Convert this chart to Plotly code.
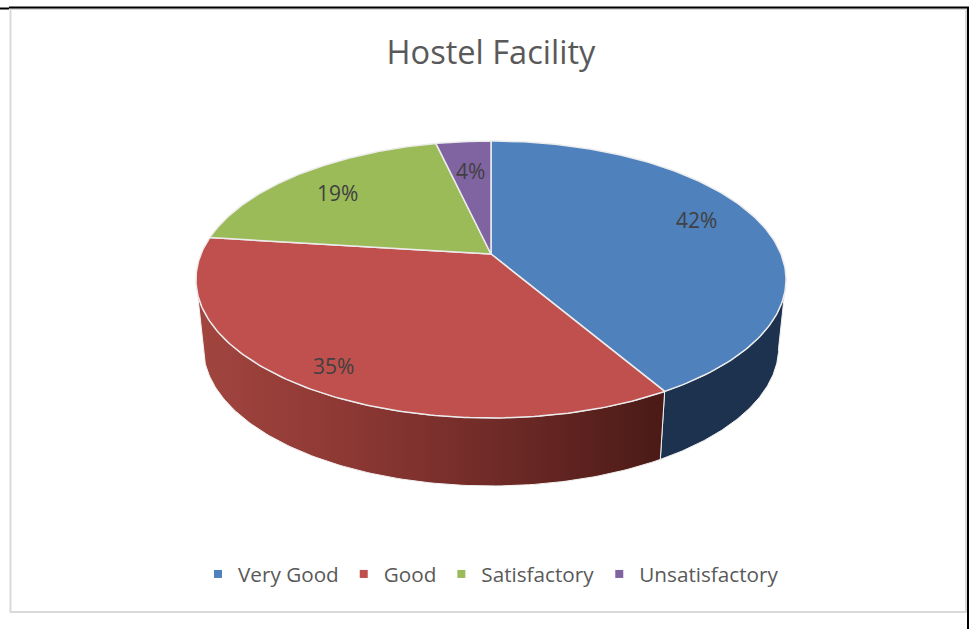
import numpy as np
import plotly.graph_objects as go

# ---- data ----
categories = ["Very Good", "Good", "Satisfactory", "Unsatisfactory"]
values = [41.6, 35.4, 19.4, 3.6]
title_text = "Hostel Facility"

# ---- style ----
top_colors = ["#4f81bd", "#c0504d", "#9bbb59", "#8064a2"]
label_radii = [0.76, 0.855, 0.78, 0.70]
label_yshift = [8, -2, -3, 1]
CX, CY, A, B, K = 491, 254, 290, 133.8, 0.184
DEPTH, SHRINK = 68, 0.975


def project(theta, r=1.0):
    u, v = r * np.sin(theta), r * np.cos(theta)
    d = 1 + K * v
    return CX + A * u / d, CY - B * v / d


def lower(theta):
    x, y = project(theta)
    return CX + SHRINK * (x - CX), y + DEPTH


fracs = np.array(values) / sum(values)
edges = np.concatenate([[0], np.cumsum(fracs)]) * 2 * np.pi
tangent = np.arccos(-K)  # where the rim is widest on screen

fig = go.Figure()


def wall(t0, t1, **kw):
    th = np.linspace(t0, t1, 120)
    xt, yt = project(th)
    xb, yb = lower(th[::-1])
    fig.add_trace(go.Scatter(
        x=np.concatenate([xt, xb, xt[:1]]), y=np.concatenate([yt, yb, yt[:1]]),
        mode="lines", fill="toself", showlegend=False, hoverinfo="skip",
        line=dict(color="#f2f2f2", width=1), **kw))


# side walls, from the slices that face the viewer
wall(tangent, edges[1], fillcolor="#1d324e")
wall(edges[1], 2 * np.pi - tangent, fillgradient=dict(
    type="horizontal",
    colorscale=[[0, "#a2453f"], [0.3, "#8f3935"], [0.65, "#6f2a27"], [1, "#4a1a16"]]))

# top faces
for i, name in enumerate(categories):
    th = np.linspace(edges[i], edges[i + 1], 160)
    x, y = project(th)
    fig.add_trace(go.Scatter(
        x=np.concatenate([[CX], x, [CX]]), y=np.concatenate([[CY], y, [CY]]),
        mode="lines", fill="toself", fillcolor=top_colors[i],
        line=dict(color="#ececec", width=1.5),
        showlegend=False, name=name, hoverinfo="skip"))

# legend entries
for i, name in enumerate(categories):
    fig.add_trace(go.Scatter(
        x=[None], y=[None], mode="markers", name=name,
        marker=dict(symbol="square", size=8, color=top_colors[i])))

# percentage labels
for i, f in enumerate(fracs):
    mid = (edges[i] + edges[i + 1]) / 2
    lx, ly = project(mid, label_radii[i])
    fig.add_annotation(x=lx, y=ly, yshift=label_yshift[i], text=f"{round(f * 100)}%",
                       showarrow=False, font=dict(size=21, color="#404040"))

line_black = dict(color="#000000", width=2)
line_gray = dict(color="#d9d9d9", width=2)
fig.add_shape(type="rect", x0=10.5, x1=966, y0=9, y1=612, line=line_gray, layer="below")
fig.add_shape(type="line", x0=9, x1=969, y0=7.5, y1=7.5, line=line_black, layer="below")
fig.add_shape(type="line", x0=0, x1=9, y0=8.5, y1=8.5, line=line_black, layer="below")
fig.add_shape(type="line", x0=968, x1=968, y0=7, y1=629, line=line_black, layer="below")

fig.update_layout(
    width=973, height=629, margin=dict(l=0, r=0, t=0, b=0),
    paper_bgcolor="white", plot_bgcolor="white",
    font=dict(family="Open Sans"),
    title=dict(text=title_text, x=491 / 973, xanchor="center", y=1 - 53 / 629, yanchor="middle",
               font=dict(size=32.6, color="#595959", family="Open Sans")),
    xaxis=dict(range=[0, 973], visible=False, fixedrange=True),
    yaxis=dict(range=[629, 0], visible=False, fixedrange=True),
    legend=dict(orientation="h", x=491 / 973, xanchor="center", y=1 - 574 / 629, yanchor="middle",
                font=dict(size=20.7, color="#595959"), bgcolor="rgba(0,0,0,0)"),
)

fig.write_html("out.html", config={"displayModeBar": False},
               post_script="document.body.style.margin='0';document.body.style.overflow='hidden';")
